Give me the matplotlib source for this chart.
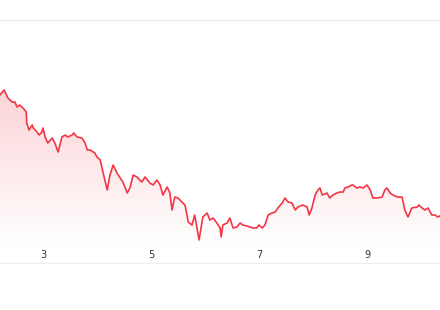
import numpy as np
import matplotlib
matplotlib.use("Agg")
import matplotlib.pyplot as plt
from matplotlib.colors import to_rgb

x_vals = [2.20, 2.28, 2.35, 2.43, 2.48, 2.52, 2.57, 2.63, 2.69, 2.70,
          2.74, 2.80, 2.82, 2.89, 2.93, 2.98, 3.00, 3.04, 3.09, 3.17,
          3.22, 3.28, 3.35, 3.41, 3.46, 3.54, 3.57, 3.63, 3.72, 3.78,
          3.82, 3.87, 3.96, 4.00, 4.06, 4.11, 4.19, 4.24, 4.30, 4.37,
          4.43, 4.48, 4.56, 4.61, 4.67, 4.74, 4.83, 4.89, 4.98, 5.04,
          5.11, 5.17, 5.22, 5.30, 5.35, 5.39, 5.44, 5.50, 5.57, 5.63,
          5.69, 5.76, 5.81, 5.89, 5.96, 6.04, 6.09, 6.15, 6.22, 6.28,
          6.30, 6.33, 6.41, 6.46, 6.52, 6.59, 6.65, 6.70, 6.78, 6.83,
          6.89, 6.96, 7.00, 7.06, 7.11, 7.17, 7.24, 7.30, 7.35, 7.43,
          7.48, 7.54, 7.61, 7.67, 7.72, 7.81, 7.89, 7.93, 7.98, 8.04,
          8.09, 8.13, 8.17, 8.26, 8.31, 8.37, 8.44, 8.50, 8.56, 8.59,
          8.65, 8.72, 8.74, 8.81, 8.87, 8.93, 9.00, 9.06, 9.11, 9.19,
          9.28, 9.33, 9.37, 9.43, 9.48, 9.56, 9.65, 9.70, 9.76, 9.83,
          9.93, 9.96, 10.02, 10.07, 10.13, 10.20, 10.26, 10.31, 10.35]

y_vals = [168, 173, 165, 161, 161, 156, 158, 155, 151, 140,
          133, 138, 135, 131, 128, 131, 135, 126, 120, 125,
          120, 111, 126, 128, 126, 128, 130, 126, 125, 120,
          113, 113, 110, 106, 103, 91, 73, 88, 98, 90,
          85, 81, 70, 75, 88, 86, 81, 86, 80, 78,
          83, 78, 68, 76, 70, 53, 66, 65, 61, 58,
          41, 38, 48, 23, 46, 50, 43, 45, 40, 35,
          26, 38, 40, 45, 35, 36, 40, 38, 37, 36,
          35, 35, 38, 35, 38, 48, 50, 51, 55, 60,
          65, 61, 60, 53, 56, 58, 56, 48, 55, 68,
          73, 75, 68, 70, 65, 68, 70, 71, 71, 75,
          76, 78, 78, 75, 76, 75, 78, 73, 65, 65,
          66, 73, 75, 70, 68, 66, 66, 53, 46, 55,
          56, 58, 55, 53, 55, 48, 48, 46, 47]

tick_positions = [3, 5, 7, 9]
tick_labels = ["3", "5", "7", "9"]

line_color = "#f23645"

fig = plt.figure(figsize=(4.4, 3.1), dpi=100)
ax = fig.add_axes([0, 47 / 310, 1, 243 / 310])
xmin, xmax = 2.204, 10.352
ymin, ymax = 0, 243
ax.set_xlim(xmin, xmax)
ax.set_ylim(ymin, ymax)

# gradient fill under the line
rgb = to_rgb(line_color)
top_v = 175
grad = np.zeros((256, 2, 4))
grad[..., 0] = rgb[0]
grad[..., 1] = rgb[1]
grad[..., 2] = rgb[2]
alphas = np.linspace(0.0, 0.22, 256)
grad[..., 3] = alphas[:, None]
im = ax.imshow(grad, extent=[xmin, xmax, 15, top_v], origin="lower",
               aspect="auto", zorder=1, interpolation="bilinear")
poly = ax.fill_between(x_vals, y_vals, 0, color="none", lw=0)
im.set_clip_path(poly.get_paths()[0], transform=ax.transData)

ax.plot(x_vals, y_vals, color=line_color, lw=1.2, zorder=3,
        solid_joinstyle="round")

for s in ["left", "right"]:
    ax.spines[s].set_visible(False)
for s in ["top", "bottom"]:
    ax.spines[s].set_color("#eeeeee")
    ax.spines[s].set_linewidth(1.0)

ax.set_yticks([])
ax.set_xticks(tick_positions)
ax.set_xticklabels(tick_labels)
ax.tick_params(axis="x", length=0, pad=-9.5, labelsize=7, colors="#333333")

fig.savefig("out.png", dpi=100, facecolor="white")
